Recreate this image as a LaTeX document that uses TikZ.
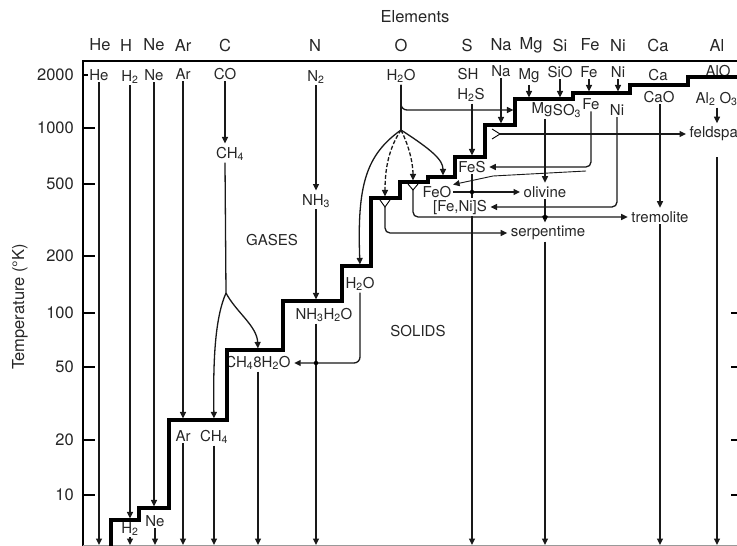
\documentclass[tikz,border=0pt]{standalone}
\usepackage{fontspec}
\setmainfont{TeX Gyre Heros}
\usetikzlibrary{arrows.meta}
\newcommand{\chsub}[1]{\textsubscript{#1}}
\begin{document}
\begin{tikzpicture}[x=1pt,y=-1pt,
  lab/.style={font=\fontsize{15}{17}\selectfont, text=black!85, inner sep=1.5pt},
  hdr/.style={font=\fontsize{16.5}{18}\selectfont, text=black!85, inner sep=1pt},
  col/.style={line width=1.3pt, black!90},
  thinl/.style={line width=0.9pt, black!90},
  stair/.style={line width=3.2pt, line join=miter, line cap=butt},
  arr/.style={-{Triangle[width=6pt,length=6.5pt]}},
  tostep/.style={col,arr,shorten >=1.6pt},
  intolab/.style={col,arr,shorten >=2pt},
  dot/.style={circle, fill=black, inner sep=0pt, minimum size=4.5pt},
  forkmark/.style={line width=0.9pt},
  dsh/.style={dash pattern=on 4pt off 2pt},
]
\useasboundingbox (0,0) rectangle (737,546);
\clip (0,0) rectangle (737,546);

% ---------- axes ----------
\coordinate (bot) at (0,545);
\draw[line width=1.4pt] (83,546) -- (83,61) -- (737,61);
\draw[line width=0.5pt, black!40] (83,545.5) -- (737,545.5);
\node[hdr] (elements) at (415,17) {Elements};
\node[hdr, rotate=90] (ylabel) at (20,307) {Temperature (°K)};
\node[hdr, anchor=east] (tick2000) at (75,75) {2000};
\draw[line width=1.1pt] (83,75) -- (88,75);
\foreach \v/\yy in {1000/128,500/184,200/256,100/313,50/367,20/440,10/495}{
  \node[hdr, anchor=east] (tick\v) at (75,\yy) {\v};
  \draw[line width=1.1pt] (83,\yy) -- (95,\yy);
}
\foreach \yy in {313,367,440,495}{ \draw[line width=1.1pt] (731,\yy) -- (737,\yy); }

% ---------- element header ----------
\node[hdr] (hHe) at (100,45) {He};
\node[hdr] (hH)  at (126,45) {H};
\node[hdr] (hNe) at (154,45) {Ne};
\node[hdr] (hAr) at (183,45) {Ar};
\node[hdr] (hC)  at (225,45) {C};
\node[hdr] (hN)  at (315,45) {N};
\node[hdr] (hO)  at (401,45) {O};
\node[hdr] (hS)  at (467,45) {S};
\node[hdr] (hNa) at (501,45) {Na};
\node[hdr] (hMg) at (531,45) {Mg};
\node[hdr] (hSi) at (560,45) {Si};
\node[hdr] (hFe) at (590,45) {Fe};
\node[hdr] (hNi) at (618,45) {Ni};
\node[hdr] (hCa) at (658,45) {Ca};
\node[hdr] (hAl) at (717,45) {Al};

% ---------- gas-phase labels ----------
\node[lab] (tHe)  at (99,75)  {He};
\node[lab] (tH2)  at (130,77) {H\chsub{2}};
\node[lab] (tNe)  at (154,75) {Ne};
\node[lab] (tAr)  at (183,74) {Ar};
\node[lab] (tCO)  at (225,74) {CO};
\node[lab] (tN2)  at (316,77) {N\chsub{2}};
\node[lab] (tH2O) at (401,76) {H\chsub{2}O};
\node[lab] (tSH)  at (468,74) {SH};
\node[lab] (tH2S) at (471,95) {H\chsub{2}S};
\node[lab] (tNa)  at (501,71) {Na};
\node[lab] (tMg)  at (529,76) {Mg};
\node[lab] (tSiO) at (560,72) {SiO};
\node[lab] (tFe)  at (589,72) {Fe};
\node[lab] (tNi)  at (618,72) {Ni};
\node[lab] (tCa)  at (658,75) {Ca};
\node[lab] (tAlO) at (718,71) {AlO};

% ---------- labels below the condensation curve ----------
\node[lab] (lMg)    at (542,110) {Mg};
\node[lab] (lSO3)   at (567,111) {SO\chsub{3}};
\node[lab] (lFe)    at (591,104) {Fe};
\node[lab] (lNi)    at (617,110) {Ni};
\node[lab] (lCaO)   at (659,97)  {CaO};
\node[lab, anchor=west] (lAl2O3) at (694,99) {Al\chsub{2} O\chsub{3}};
\node[lab] (CH4a)   at (230,154) {CH\chsub{4}};
\node[lab] (NH3)    at (316,201) {NH\chsub{3}};
\node[lab] (GASES)  at (272,240) {GASES};
\node[lab] (SOLIDS) at (418,331) {SOLIDS};
\node[lab] (NH3H2O) at (324,315) {NH\chsub{3}H\chsub{2}O};
\node[lab] (H2Os)   at (360,284) {H\chsub{2}O};
\node[lab] (CH48)   at (258,363) {CH\chsub{4}8H\chsub{2}O};
\node[lab] (ArL)    at (183,436) {Ar};
\node[lab] (CH4L)   at (214,437) {CH\chsub{4}};
\node[lab] (NeL)    at (155,521) {Ne};
\node[lab] (H2L)    at (130,529) {H\chsub{2}};
\node[lab] (FeS)    at (472,167) {FeS};
\node[lab] (FeO)    at (437,192) {FeO};
\node[lab] (FeNiS)  at (460,207) {[Fe,Ni]S};
\node[lab] (olivine)    at (545,192) {olivine};
\node[lab] (serpentime) at (548,233) {serpentime};
\node[lab] (tremolite)  at (660,217) {tremolite};
\node[lab, anchor=west] (feldspar) at (688,134) {feldspar};

% ---------- condensation staircase ----------
\coordinate (st1)  at (111,520);
\coordinate (st2)  at (139,508);
\coordinate (st3)  at (169,420);
\coordinate (st4)  at (227,350);
\coordinate (st5)  at (283,301);
\coordinate (st6)  at (342,266);
\coordinate (st7)  at (371,198);
\coordinate (st8)  at (400,182);
\coordinate (st9)  at (428,177);
\coordinate (st10) at (455,157);
\coordinate (st11) at (485,125);
\coordinate (st12) at (515,99);
\coordinate (st13) at (573,93);
\coordinate (st14) at (630,85);
\coordinate (st15) at (688,77);
\coordinate (stend) at (740,77);
\draw[stair] (111,548) -- (st1) -| (st2) -| (st3) -| (st4) -| (st5) -| (st6)
  -| (st7) -| (st8) -| (st9) -| (st10) -| (st11) -| (st12) -| (st13)
  -| (st14) -| (st15) -- (stend);

% ---------- noble gases and hydrogen ----------
\draw[col,arr] (tHe.south) -- (tHe.south |- bot);
\draw[tostep] (tH2.south -| H2L.north) -- (H2L.north |- st1);
\draw[col,arr] (H2L.south) -- (H2L.south |- bot);
\draw[tostep] (tNe.south) -- (tNe.south |- st2);
\draw[col,arr] (NeL.south) -- (NeL.south |- bot);
\draw[tostep] (tAr.south) -- (tAr.south |- st3);
\draw[col,arr] (ArL.south) -- (ArL.south |- bot);

% ---------- carbon ----------
\coordinate (split1) at (226,293);
\draw[intolab] (tCO.south) -- (tCO.south |- CH4a.north);
\draw[col] (tCO.south |- CH4a.south) -- (split1);
\draw[tostep] (split1) .. controls (215,318) and (213,360) .. (CH4L.north |- st3);
\draw[tostep] (split1) .. controls (236,312) and (257,326) .. (CH48.north |- st4);
\draw[col,arr] (CH4L.south) -- (CH4L.south |- bot);
\draw[col,arr] (CH48.south) -- (CH48.south |- bot);

% ---------- nitrogen ----------
\draw[intolab] (tN2.south) -- (tN2.south |- NH3.north);
\draw[tostep] (NH3.south) -- (NH3.south |- st5);
\draw[col,arr] (NH3.south |- NH3H2O.south) -- (NH3.south |- bot);

% ---------- oxygen / water ----------
\coordinate (ob1) at (401,110);
\coordinate (ob2) at (401,130);
\draw[col] (tH2O.south) -- (ob2);
\draw[tostep, rounded corners=6pt] (tH2O.south) |- (st12 |- ob1);
\draw[tostep] (ob2) .. controls (366,155) and (357,185) .. (H2Os.north |- st6);
\draw[tostep, dsh] (ob2) .. controls (389,148) and (385,168) .. (385,198);
\draw[tostep, dsh] (ob2) .. controls (410,148) and (413,165) .. (413,182);
\draw[tostep] (ob2) .. controls (432,150) and (443,160) .. (443,177);
\draw[intolab, rounded corners=6pt] (H2Os.south) |- (CH48.east);
\node[dot] (d3) at (NH3.south |- CH48.east) {};

% forks below the curve
\coordinate (y1) at (385,207);
\draw[forkmark] (380,200) -- (y1) -- (390,200);
\draw[intolab, rounded corners=5pt] (y1) |- (serpentime.west);
\coordinate (y2) at (413,190);
\draw[forkmark] (408,184) -- (y2) -- (418,184);
\draw[intolab, rounded corners=5pt] (y2) |- (tremolite.west);
\coordinate (y3) at (500,134);
\draw[forkmark] (492,129) -- (y3) -- (492,139);
\draw[intolab] (y3) -- (feldspar.west);

% ---------- sulfur, iron, nickel ----------
\draw[tostep] (FeS.north |- tH2S.south) -- (FeS.north |- st10);
\draw[col] (FeS.south) -- (FeS.south |- FeNiS.north);
\draw[col,arr] (FeS.south |- FeNiS.south) -- (FeS.south |- bot);
\draw[intolab, rounded corners=5pt] (lFe.south) |- (FeS.east);
\coordinate (fedg) at (586,171);
\draw[thinl,arr] (fedg) -- (493,176) -- (FeO.north east);
\draw[intolab, rounded corners=5pt] (lNi.south) |- (FeNiS.east);
\draw[intolab] (FeO.east) -- (olivine.west);
\node[dot] (d1) at (FeS.south |- FeO.east) {};

% ---------- alkali / alkaline earth / Si / Al ----------
\draw[tostep] (tNa.south) -- (tNa.south |- st11);
\draw[tostep] (tMg.south) -- (tMg.south |- st12);
\draw[tostep] (tSiO.south) -- (tSiO.south |- st12);
\draw[tostep] (tFe.south) -- (tFe.south |- st13);
\draw[tostep] (tNi.south) -- (tNi.south |- st13);
\draw[intolab] (olivine.north |- lMg.south) -- (olivine.north);
\draw[intolab] (olivine.south) -- (olivine.south |- serpentime.north);
\node[dot] (d2) at (olivine.south |- tremolite.west) {};
\draw[col,arr] (olivine.south |- serpentime.south) -- (olivine.south |- bot);
\draw[intolab] (tremolite.north |- lCaO.south) -- (tremolite.north);
\draw[col,arr] (tremolite.south) -- (tremolite.south |- bot);
\coordinate (alcol) at (717,0);
\coordinate (alstart) at (717,157);
\draw[intolab] (alcol |- lAl2O3.south) -- (alcol |- feldspar.north);
\draw[col,arr] (alstart) -- (alstart |- bot);
\end{tikzpicture}
\end{document}
